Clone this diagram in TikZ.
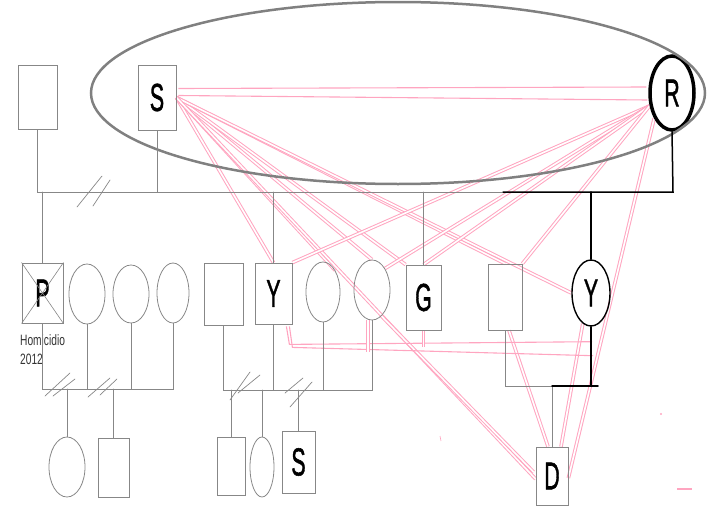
\documentclass[tikz,border=0pt]{standalone}
\usepackage{fontspec}
\setmainfont{Liberation Sans}
\newfontfamily\letrafont[FakeBold=1.5]{Liberation Sans}
\usepackage{graphicx}
\usetikzlibrary{shapes.geometric,calc,backgrounds}
\definecolor{rosa}{RGB}{255,165,192}
\definecolor{linea}{RGB}{135,135,135}
\newcommand{\letra}[1]{\scalebox{0.55}[1]{\letrafont\fontsize{39}{39}\selectfont #1}}

\begin{document}
\begin{tikzpicture}[x=1pt,y=-1pt,line cap=round,
  varon/.style={rectangle,draw=linea,line width=0.8pt,inner sep=0pt},
  mujer/.style={ellipse,draw=linea,line width=0.8pt,inner sep=0pt},
  fam/.style={draw=linea,line width=0.8pt},
  famn/.style={draw=black,line width=1.5pt},
  corte/.style={draw=linea,line width=0.7pt},
  lazo/.style={draw=rosa,line width=1.1pt},
  lazodoble/.style={draw=rosa,line width=1pt,double=white,double distance=1.6pt}]
\useasboundingbox (0,0) rectangle (710,506);
\node[varon,minimum width=39pt,minimum height=64pt] (pa) at (37.5,97) {};
\node[varon,minimum width=38pt,minimum height=65pt] (S) at (157,97.5) {\letra{S}};
\node[ellipse,draw=black,line width=3.5pt,minimum width=44pt,minimum height=74pt,inner sep=0pt] (R) at (672,93) {\letra{R}};
\node[varon,minimum width=41pt,minimum height=60pt] (P) at (42.5,293) {\letra{P}};
\node[mujer,minimum width=36pt,minimum height=60pt] (m1) at (87,294) {};
\node[mujer,minimum width=36pt,minimum height=58pt] (m2) at (131,294) {};
\node[mujer,minimum width=32pt,minimum height=60pt] (m3) at (173,293) {};
\node[varon,minimum width=39pt,minimum height=62pt] (h1) at (223.5,294) {};
\node[varon,minimum width=37pt,minimum height=61pt] (Y1) at (273.5,293.5) {\letra{Y}};
\node[mujer,minimum width=34pt,minimum height=60pt] (m4) at (323,292) {};
\node[mujer,minimum width=36pt,minimum height=60pt] (m5) at (372,290) {};
\node[varon,minimum width=35pt,minimum height=65pt] (G) at (423.5,297.5) {\letra{G}};
\node[varon,minimum width=34pt,minimum height=66pt] (h2) at (505,297) {};
\node[ellipse,draw=black,line width=1.4pt,minimum width=38pt,minimum height=66pt,inner sep=0pt] (Y2) at (591,293) {\letra{Y}};
\node[mujer,minimum width=36pt,minimum height=60pt] (n1) at (67,467) {};
\node[varon,minimum width=31pt,minimum height=59pt] (n2) at (113.5,467.5) {};
\node[varon,minimum width=28pt,minimum height=58pt] (n3) at (231,466) {};
\node[mujer,minimum width=24pt,minimum height=60pt] (n4) at (262,467) {};
\node[varon,minimum width=33pt,minimum height=62pt] (S2) at (298.5,462) {\letra{S}};
\node[varon,minimum width=32pt,minimum height=58pt] (D) at (552,476) {\letra{D}};
\node[anchor=north west,inner sep=0pt,text=black!80] (hom) at (20,332) {\scalebox{0.68}[1]{\fontsize{15}{19}\selectfont\begin{tabular}{@{}l@{}}Homicidio\\2012\end{tabular}}};
\draw[linea,line width=0.6pt] (P.north west) -- (P.south east) (P.north east) -- (P.south west);
\begin{scope}[on background layer]
\draw[lazo] ($(S.east)+(2,-9)$) -- ($(R.west)+(-2,-6)$);
\draw[lazo] ($(S.east)+(2,-2)$) -- ($(R.west)+(-1,7)$);
\foreach \t in {Y1.north,m4.north east,m5.north,G.north west,h2.north,Y2.west}
  \draw[lazodoble] (S.east) -- (\t);
\draw[lazodoble] (S.east) -- ($(D.west)+(0,3)$);
\foreach \t in {Y1.north east,m5.north east,G.north,h2.north east}
  \draw[lazodoble] (R.210) -- (\t);
\draw[lazodoble] (R.235) -- ($(D.east)+(0,2)$);
\draw[lazodoble] (Y2.255) -- ($(D.north)+(9,0)$);
\draw[lazodoble] ($(h2.south)+(4,0)$) -- ($(D.north)+(-4,0)$);
\draw[lazodoble] (m5.-70) -- ($(D.west)+(-2,-4)$);
\draw[lazo] ($(Y1.south east)+(-6,2)$) -- ++(3,18) -- ($(Y2.south)+(1,15)$);
\draw[lazo] ($(Y1.south east)+(-3,2)$) -- ++(3,21) -- ($(Y2.south)+(2,29)$);
\draw[lazodoble] (G.south) -- ++(0,17);
\draw[lazodoble] ($(m5.south)+(-4,0)$) -- ++(0,32);
\draw[lazo] (677,489) -- (692,489);
\fill[rosa] (661,414) circle (1.2pt);
\draw[rosa,line width=0.6pt] (440,436) -- (441,441);
\end{scope}
\draw[gray,line width=2.5pt] (398,93) ellipse [x radius=307pt,y radius=91pt];
\coordinate (ma) at (37,192);
\coordinate (mb) at (673,192);
\coordinate (mc) at (503,192);
\draw[fam] (pa.south) |- (mc);
\draw[famn] (mc) -- (mb) -- (R.south);
\draw[fam] (S.south) -- (S.south |- ma);
\draw[fam] (P.north) -- (P.north |- ma);
\draw[fam] (Y1.north) -- (Y1.north |- ma);
\draw[fam] (G.north) -- (G.north |- ma);
\draw[famn] (Y2.north) -- (Y2.north |- ma);
\draw[corte] (77,207) -- (102,176) (93,206) -- (110,180);
\coordinate (f1) at (0,389);
\draw[fam] (P.south) |- (m3.south |- f1) -- (m3.south);
\draw[fam] (m1.south) -- (m1.south |- f1);
\draw[fam] (m2.south) -- (m2.south |- f1);
\draw[fam] (n1.north) -- (n1.north |- f1);
\draw[fam] (n2.north) -- (n2.north |- f1);
\draw[corte] (45,396) -- (70,373) (53,396) -- (75,379) (88,397) -- (110,378) (100,395) -- (117,379);
\coordinate (f2) at (0,390);
\draw[fam] (h1.south) |- (m5.south |- f2) -- (m5.south);
\draw[fam] (Y1.south) -- (Y1.south |- f2);
\draw[fam] (m4.south) -- (m4.south |- f2);
\draw[fam] (n3.north) -- (n3.north |- f2);
\draw[fam] (n4.north) -- (n4.north |- f2);
\draw[fam] (S2.north) -- (S2.north |- f2);
\draw[corte] (230,400) -- (250,372) (238,393) -- (260,375) (285,393) -- (303,378) (290,407) -- (312,382);
\coordinate (f3) at (0,386);
\draw[fam] (h2.south) |- (D.north |- f3) -- (D.north);
\draw[famn] (Y2.south) -- (Y2.south |- f3);
\draw[famn] (D.north |- f3) -- ++(46,0);
\end{tikzpicture}
\end{document}
